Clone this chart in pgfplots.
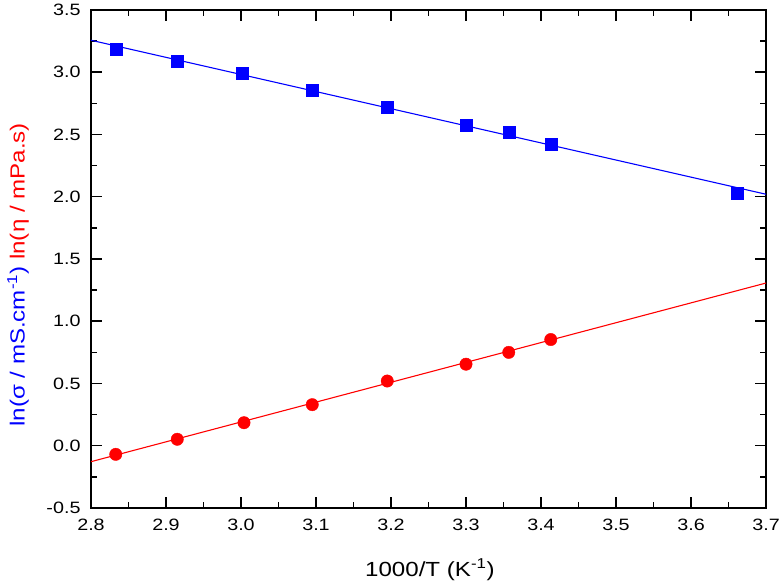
\documentclass[border=0pt]{standalone}
\usepackage{pgfplots}
\pgfplotsset{compat=1.18}
\usepackage{fontspec}
\setmainfont{Liberation Sans}
\newfontfamily\tickfont[FakeStretch=1.2]{Liberation Sans}
\newfontfamily\labfont[FakeStretch=1.18]{Liberation Sans}
\begin{document}
\begin{tikzpicture}[x=1bp,y=1bp]
\useasboundingbox (-91,-76) rectangle (691,508);
\begin{axis}[
  at={(0,0)}, anchor=south west,
  scale only axis, width=675bp, height=498bp,
  xmin=2.8, xmax=3.7, ymin=-0.5, ymax=3.5,
  xtick={2.8,2.9,...,3.71}, ytick={-0.5,0,...,3.5},
  minor x tick num=1, minor y tick num=1,
  tick align=inside, major tick length=11bp, minor tick length=6bp,
  tick style={black, line width=1.5pt},
  axis line style={line width=1.7pt},
  xticklabel style={/pgf/number format/fixed, /pgf/number format/fixed zerofill, /pgf/number format/precision=1, anchor=north, yshift=-8bp},
  yticklabel style={/pgf/number format/fixed, /pgf/number format/fixed zerofill, /pgf/number format/precision=1, anchor=east, xshift=-7bp},
  /pgf/number format/assume math mode=true,
  tick label style={font=\tickfont\fontsize{16.5}{19}\selectfont},
  label style={font=\labfont\fontsize{20.5}{24}\selectfont},
  xlabel={1000/T (K\textsuperscript{-1})},
  ylabel={\textcolor{blue}{ln(σ / mS.cm\textsuperscript{-1})} \textcolor{red}{ln(η / mPa.s)}},
  xlabel style={at={(axis description cs:0.502,0)}, anchor=base, yshift=-68bp},
  ylabel style={at={(axis description cs:-0.108,0.468)}, anchor=center},
  clip=false,
]
\addplot[blue, line width=1.1pt, forget plot] coordinates {(2.8,3.257) (3.7,2.02)};
\addplot[red, line width=1.1pt, forget plot] coordinates {(2.8,-0.128) (3.7,1.307)};
\addplot[only marks, mark=square*, mark size=6bp, blue] coordinates {
(2.833,3.184) (2.915,3.09) (3.002,2.99) (3.095,2.855) (3.195,2.72)
(3.300,2.575) (3.357,2.518) (3.413,2.426) (3.662,2.025)};
\addplot[only marks, mark=*, mark size=6.2bp, red] coordinates {
(2.833,-0.069) (2.915,0.052) (3.004,0.185) (3.095,0.33) (3.195,0.52)
(3.300,0.655) (3.357,0.75) (3.413,0.853)};
\end{axis}
\end{tikzpicture}
\end{document}
